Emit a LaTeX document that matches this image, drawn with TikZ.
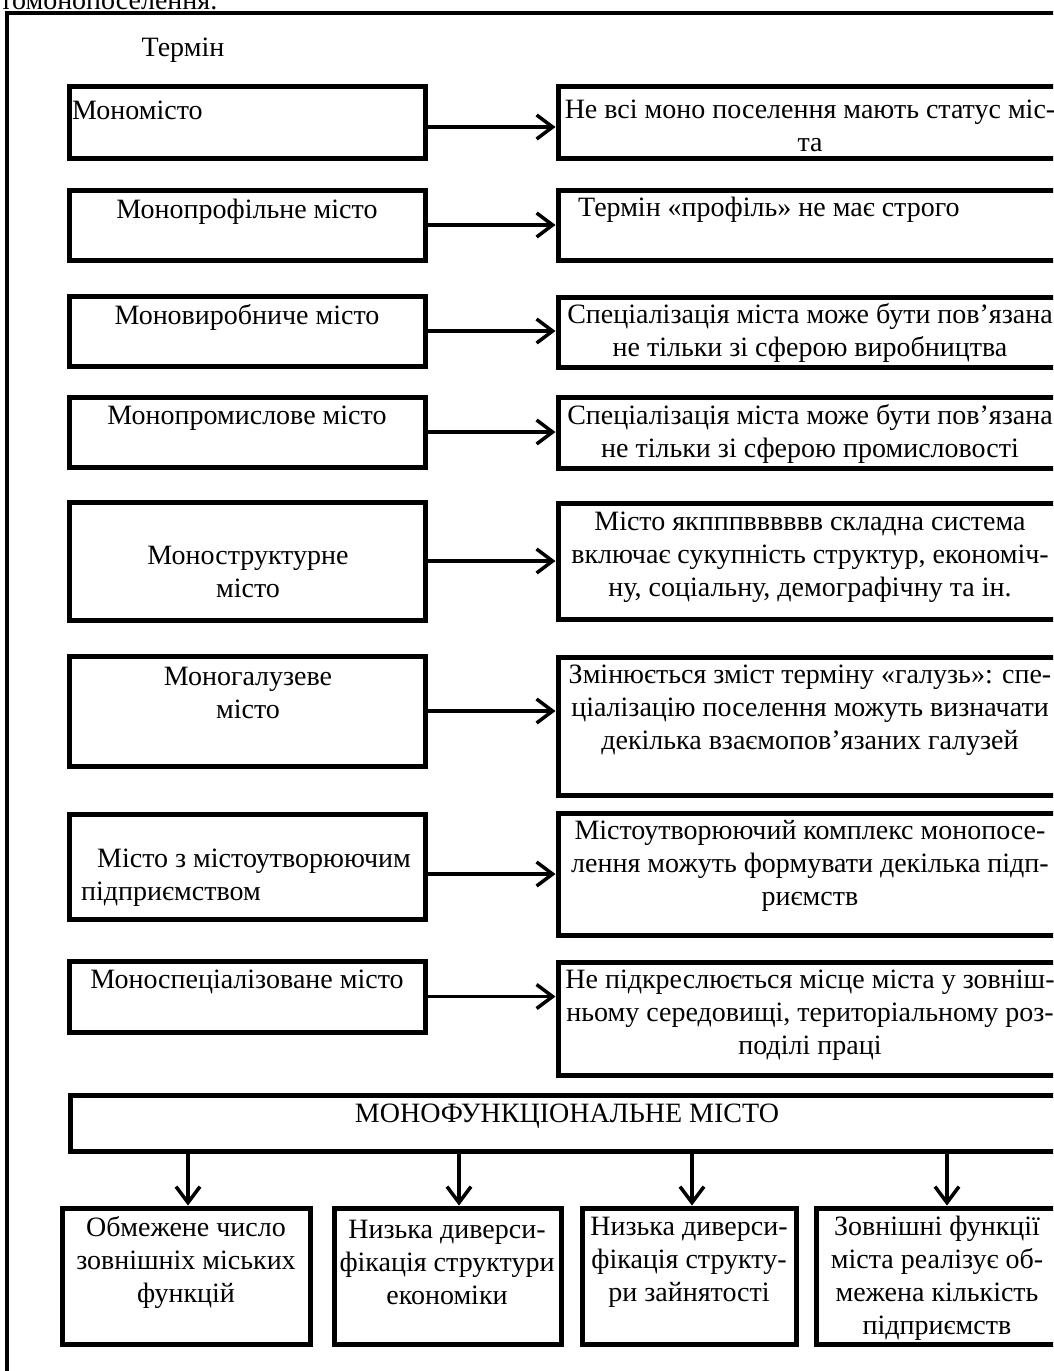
\documentclass[tikz,border=0pt]{standalone}
\usepackage{fontspec}
\setmainfont{Liberation Serif}
\usetikzlibrary{arrows.meta}
\tikzset{
  bx/.style={draw, line width=5pt, rectangle, inner sep=0pt},
  txt/.style={inner sep=0pt, align=center, font=\fontsize{28}{33}\selectfont},
  arr/.style={line width=3.5pt, -{Straight Barb[length=16pt,width=24pt,line width=3.5pt]}},
}
\begin{document}
\begin{tikzpicture}[x=1pt,y=-1pt]
\useasboundingbox (0,0) rectangle (1053,1371);
\begin{scope}
\clip (0,0) rectangle (1053,1371);
% outer frame
\draw[line width=4.5pt] (7,13) rectangle (1075,1400);
\node[txt, anchor=base west] (toptext) at (0,9) {томонопоселення.};
\node[txt] (term) at (183,50) {Термін};
% left boxes
\node[bx, minimum width=356, minimum height=72]  (L1) at (247,122) {};
\node[bx, minimum width=356, minimum height=70]  (L2) at (247,225) {};
\node[bx, minimum width=356, minimum height=70]  (L3) at (247,331) {};
\node[bx, minimum width=356, minimum height=70]  (L4) at (247,432) {};
\node[bx, minimum width=356, minimum height=118] (L5) at (247,561) {};
\node[bx, minimum width=356, minimum height=110] (L6) at (247,711) {};
\node[bx, minimum width=356, minimum height=105] (L7) at (247,866.5) {};
\node[bx, minimum width=356, minimum height=71]  (L8) at (247,996.5) {};
% right boxes
\node[bx, minimum width=504, minimum height=72]  (R1) at (810,122) {};
\node[bx, minimum width=504, minimum height=70]  (R2) at (810,225) {};
\node[bx, minimum width=504, minimum height=70]  (R3) at (810,332) {};
\node[bx, minimum width=504, minimum height=71]  (R4) at (810,432.5) {};
\node[bx, minimum width=504, minimum height=116] (R5) at (810,561) {};
\node[bx, minimum width=504, minimum height=138] (R6) at (810,726) {};
\node[bx, minimum width=504, minimum height=122] (R7) at (810,874) {};
\node[bx, minimum width=504, minimum height=113] (R8) at (810,1018.5) {};
% left texts
\node[txt, anchor=west] (t1) at (72,110) {Мономісто};
\node[txt] (t2) at (247,212) {Монопрофільне місто};
\node[txt] (t3) at (247,317) {Моновиробниче місто};
\node[txt] (t4) at (247,418) {Монопромислове місто};
\node[txt] (t5) at (248,572) {Моноструктурне\\місто};
\node[txt] (t6) at (248,693) {Моногалузеве\\місто};
\node[txt, align=left, anchor=west] (t7) at (81,878) {\hspace{16pt}Місто з містоутворюючим\\підприємством};
\node[txt] (t8) at (247,982) {Моноспеціалізоване місто};
% right texts
\node[txt] (r1) at (810,126) {Не всі моно поселення мають статус міс-\\та};
\node[txt, anchor=west] (r2) at (578,210) {Термін «профіль» не має строго};
\node[txt] (r3) at (810,333) {Спеціалізація міста може бути пов’язана\\не тільки зі сферою виробництва};
\node[txt] (r4) at (810,434) {Спеціалізація міста може бути пов’язана\\не тільки зі сферою промисловості};
\node[txt] (r5) at (810,557) {Місто якпппвввввв складна система\\включає сукупність структур, економіч-\\ну, соціальну, демографічну та ін.};
\node[txt] (r6) at (810,710) {Змінюється зміст терміну «галузь»: спе-\\ціалізацію поселення можуть визначати\\декілька взаємопов’язаних галузей};
\node[txt] (r7) at (810,866) {Містоутворюючий комплекс монопосе-\\лення можуть формувати декілька підп-\\риємств};
\node[txt] (r8) at (810,1015) {Не підкреслюється місце міста у зовніш-\\ньому середовищі, територіальному роз-\\поділі праці};
% arrows
\draw[arr] ([yshift=-5pt]L1.east) -- ([yshift=-5pt]L1.east -| R1.west);
\draw[arr] (L2.east) -- (L2.east -| R2.west);
\draw[arr] (L3.east) -- (L3.east -| R3.west);
\draw[arr] (L4.east) -- (L4.east -| R4.west);
\draw[arr] (L5.east) -- (L5.east -| R5.west);
\draw[arr] (L6.east) -- (L6.east -| R6.west);
\draw[arr] ([yshift=-7.5pt]L7.east) -- ([yshift=-7.5pt]L7.east -| R7.west);
\draw[arr] (L8.east) -- (L8.east -| R8.west);
% bottom
\node[bx, minimum width=994, minimum height=56] (MF) at (567,1123) {};
\node[txt] (mft) at (567,1116) {МОНОФУНКЦІОНАЛЬНЕ МІСТО};
\node[bx, minimum width=248, minimum height=136] (D1) at (186,1276) {};
\node[bx, minimum width=227, minimum height=136] (D2) at (447.5,1276) {};
\node[bx, minimum width=214, minimum height=136] (D3) at (689,1276) {};
\node[bx, minimum width=244, minimum height=136] (D4) at (938,1276) {};
\node[txt] (b1) at (186,1262) {Обмежене число\\зовнішніх міських\\функцій};
\node[txt] (b2) at (447,1262) {Низька диверси-\\фікація структури\\економіки};
\node[txt] (b3) at (689,1262) {Низька диверси-\\фікація структу-\\ри зайнятості};
\node[txt] (b4) at (937,1278) {Зовнішні функції\\міста реалізує об-\\межена кількість\\підприємств};
\coordinate (X1) at (188,0);
\coordinate (X2) at (459,0);
\coordinate (X3) at (692,0);
\coordinate (X4) at (947,0);
\draw[arr] (MF.south -| X1) -- (D1.north -| X1);
\draw[arr] (MF.south -| X2) -- (D2.north -| X2);
\draw[arr] (MF.south -| X3) -- (D3.north -| X3);
\draw[arr] (MF.south -| X4) -- (D4.north -| X4);
\end{scope}
\end{tikzpicture}
\end{document}
